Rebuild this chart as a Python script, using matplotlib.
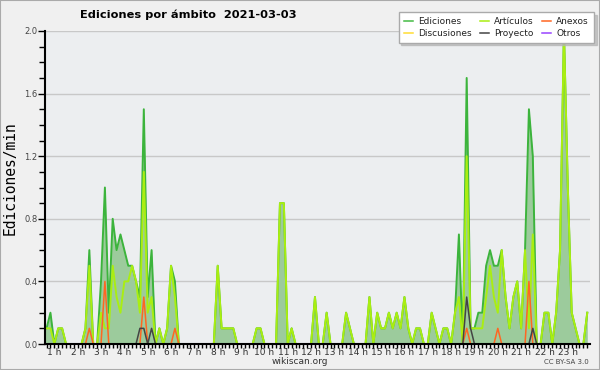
import numpy as np
import matplotlib.pyplot as plt
from matplotlib.ticker import MultipleLocator, FixedLocator, FormatStrFormatter
from matplotlib.patches import Rectangle
from matplotlib.lines import Line2D

# tramos de 10 minutos (144 por dia), valores en ediciones/min
horas = np.arange(144) / 6

ediciones = [
    0, 0, 0, 0.1, 0.1, 0.2, 0, 0.1, 0.1, 0, 0, 0,
    0, 0, 0.1, 0.6, 0, 0, 0.4, 1.0, 0.2, 0.8, 0.6, 0.7,
    0.6, 0.5, 0.5, 0.4, 0.3, 1.5, 0.3, 0.6, 0, 0.1, 0, 0.1,
    0.5, 0.4, 0, 0, 0, 0, 0, 0, 0, 0, 0, 0,
    0.5, 0.1, 0.1, 0.1, 0.1, 0, 0, 0, 0, 0, 0.1, 0.1,
    0, 0, 0, 0, 0.9, 0.9, 0, 0.1, 0, 0, 0, 0,
    0, 0.3, 0, 0, 0.2, 0, 0, 0, 0, 0.2, 0.1, 0,
    0, 0, 0, 0.3, 0, 0.2, 0.1, 0.1, 0.2, 0.1, 0.2, 0.1,
    0.3, 0.1, 0, 0.1, 0.1, 0, 0, 0.2, 0.1, 0, 0.1, 0.1,
    0, 0.2, 0.7, 0, 1.7, 0.1, 0.1, 0.2, 0.2, 0.5, 0.6, 0.5,
    0.5, 0.6, 0.3, 0.1, 0.3, 0.4, 0.1, 0.6, 1.5, 1.2, 0, 0,
    0.2, 0.2, 0, 0.2, 0.6, 2.0, 1.0, 0.2, 0.1, 0, 0, 0.2,
]

articulos = [
    0, 0, 0, 0.1, 0.1, 0.1, 0, 0.1, 0.1, 0, 0, 0,
    0, 0, 0.1, 0.5, 0, 0, 0.2, 0.1, 0.1, 0.5, 0.3, 0.2,
    0.4, 0.4, 0.5, 0.4, 0.2, 1.1, 0.2, 0.3, 0, 0.1, 0, 0.1,
    0.5, 0.3, 0, 0, 0, 0, 0, 0, 0, 0, 0, 0,
    0.5, 0.1, 0.1, 0.1, 0.1, 0, 0, 0, 0, 0, 0.1, 0.1,
    0, 0, 0, 0, 0.9, 0.9, 0, 0.1, 0, 0, 0, 0,
    0, 0.3, 0, 0, 0.2, 0, 0, 0, 0, 0.2, 0.1, 0,
    0, 0, 0, 0.3, 0, 0.2, 0.1, 0.1, 0.2, 0.1, 0.2, 0.1,
    0.3, 0.1, 0, 0.1, 0.1, 0, 0, 0.2, 0.1, 0, 0.1, 0.1,
    0, 0.2, 0.3, 0, 1.2, 0.1, 0.1, 0.1, 0.1, 0.3, 0.5, 0.3,
    0.2, 0.6, 0.3, 0.1, 0.3, 0.4, 0.1, 0.6, 0.1, 0.7, 0, 0,
    0.2, 0.2, 0, 0.2, 0.6, 2.0, 1.0, 0.2, 0.1, 0, 0, 0.2,
]

anexos = [
    0, 0, 0, 0, 0, 0, 0, 0, 0, 0, 0, 0,
    0, 0, 0, 0.1, 0, 0, 0, 0.4, 0, 0, 0, 0,
    0, 0, 0, 0, 0, 0.3, 0, 0, 0, 0, 0, 0,
    0, 0.1, 0, 0, 0, 0, 0, 0, 0, 0, 0, 0,
    0, 0, 0, 0, 0, 0, 0, 0, 0, 0, 0, 0,
    0, 0, 0, 0, 0, 0, 0, 0, 0, 0, 0, 0,
    0, 0, 0, 0, 0, 0, 0, 0, 0, 0, 0, 0,
    0, 0, 0, 0, 0, 0, 0, 0, 0, 0, 0, 0,
    0, 0, 0, 0, 0, 0, 0, 0, 0, 0, 0, 0,
    0, 0, 0, 0, 0.1, 0, 0, 0, 0, 0, 0, 0,
    0.1, 0, 0, 0, 0, 0, 0, 0, 0.4, 0, 0, 0,
    0, 0, 0, 0, 0, 0, 0, 0, 0, 0, 0, 0,
]

proyecto = [
    0, 0, 0, 0, 0, 0, 0, 0, 0, 0, 0, 0,
    0, 0, 0, 0, 0, 0, 0, 0, 0, 0, 0, 0,
    0, 0, 0, 0, 0.1, 0.1, 0, 0.1, 0, 0, 0, 0,
    0, 0, 0, 0, 0, 0, 0, 0, 0, 0, 0, 0,
    0, 0, 0, 0, 0, 0, 0, 0, 0, 0, 0, 0,
    0, 0, 0, 0, 0, 0, 0, 0, 0, 0, 0, 0,
    0, 0, 0, 0, 0, 0, 0, 0, 0, 0, 0, 0,
    0, 0, 0, 0, 0, 0, 0, 0, 0, 0, 0, 0,
    0, 0, 0, 0, 0, 0, 0, 0, 0, 0, 0, 0,
    0, 0, 0, 0, 0.3, 0.1, 0, 0, 0, 0, 0, 0,
    0, 0, 0, 0, 0, 0, 0, 0, 0, 0.1, 0, 0,
    0, 0, 0, 0, 0, 0, 0, 0, 0, 0, 0, 0,
]

discusiones = [0.0] * 144
otros = [0.0] * 144

etiquetas_horas = list(range(1, 24))

colores = {
    'Ediciones': '#44bb44',
    'Artículos': '#aaee11',
    'Anexos': '#ff6622',
    'Discusiones': '#ffdd33',
    'Proyecto': '#444444',
    'Otros': '#9944ff',
}

fig = plt.figure(figsize=(6, 3.7), dpi=100, facecolor='#f0f0f0')
ax = fig.add_axes([45 / 600, 26 / 370, 545 / 600, 313 / 370])
ax.set_facecolor('#eceef0')

ax.fill_between(horas, ediciones, color='#9ccb9c', lw=0, zorder=1)
ax.plot(horas, ediciones, color='#3cb43c', lw=1.4, zorder=2)
ax.plot(horas, discusiones, color=colores['Discusiones'], lw=1, zorder=1.5)
ax.plot(horas, otros, color=colores['Otros'], lw=1, zorder=1.5)
ax.plot(horas, articulos, color=colores['Artículos'], lw=1.4, zorder=2.1)
ax.plot(horas, anexos, color=colores['Anexos'], lw=1.1, zorder=2.2)
ax.plot(horas, proyecto, color=colores['Proyecto'], lw=1.1, zorder=2.2)

ax.set_xlim(0.6, 23.95)
ax.set_ylim(0, 2.0)

ax.yaxis.set_major_locator(MultipleLocator(0.4))
ax.yaxis.set_minor_locator(MultipleLocator(0.1))
ax.yaxis.set_major_formatter(FormatStrFormatter('%.1f'))
ax.xaxis.set_major_locator(FixedLocator(etiquetas_horas))
ax.set_xticklabels([f'{h} h' for h in etiquetas_horas])
ax.xaxis.set_minor_locator(MultipleLocator(1 / 6))

ax.tick_params(axis='both', which='both', direction='out', width=1, color='black')
ax.tick_params(axis='y', which='major', length=5, pad=0.5, labelsize=6, labelcolor='#444444')
ax.tick_params(axis='y', which='minor', length=4)
ax.tick_params(axis='x', which='both', length=3, pad=0, labelsize=6.5, labelcolor='#333333')

ax.grid(axis='y', which='major', color='#c8c8c8', lw=1)
ax.set_axisbelow(True)
for lado in ['top', 'right']:
    ax.spines[lado].set_visible(False)
for lado in ['left', 'bottom']:
    ax.spines[lado].set_linewidth(1.5)
    ax.spines[lado].set_zorder(3)

# leyenda (orden por columnas)
orden = ['Ediciones', 'Discusiones', 'Artículos', 'Proyecto', 'Anexos', 'Otros']
handles = [Line2D([], [], color=colores[n], lw=1.1) for n in orden]
leg = fig.legend(handles, orden, loc='upper right', bbox_to_anchor=(594 / 600, 1 - 12 / 370),
                 ncol=3, fontsize=6.5, handlelength=1.0, handletextpad=0.6, columnspacing=0.9,
                 labelspacing=0.3, borderpad=0.55, borderaxespad=0, fancybox=False,
                 edgecolor='#aaaaaa', framealpha=1,
                 shadow={'color': '0.7', 'alpha': 0.7, 'ox': 2, 'oy': -2})
leg.get_frame().set_linewidth(1)
for t in leg.get_texts():
    t.set_color('#222222')

fig.text(188 / 600, 1 - 15 / 370, 'Ediciones por ámbito  2021-03-03',
         ha='center', va='center', fontsize=8.2, fontweight='bold')
fig.text(10 / 600, 1 - 178 / 370, 'Ediciones/min', rotation=90, ha='center', va='center',
         family='DejaVu Sans Mono', fontsize=10.5)
fig.text(300 / 600, 1 - 361 / 370, 'wikiscan.org', ha='center', va='center',
         fontsize=6.5, color='#333333')
fig.text(566 / 600, 1 - 362 / 370, 'CC BY-SA 3.0', ha='center', va='center',
         fontsize=5, color='#444444')

fig.patches.append(Rectangle((0, 0), 1, 1, transform=fig.transFigure, fill=False,
                             edgecolor='#aaaaaa', lw=1.5))

fig.savefig('out.png', dpi=100, facecolor=fig.get_facecolor())
